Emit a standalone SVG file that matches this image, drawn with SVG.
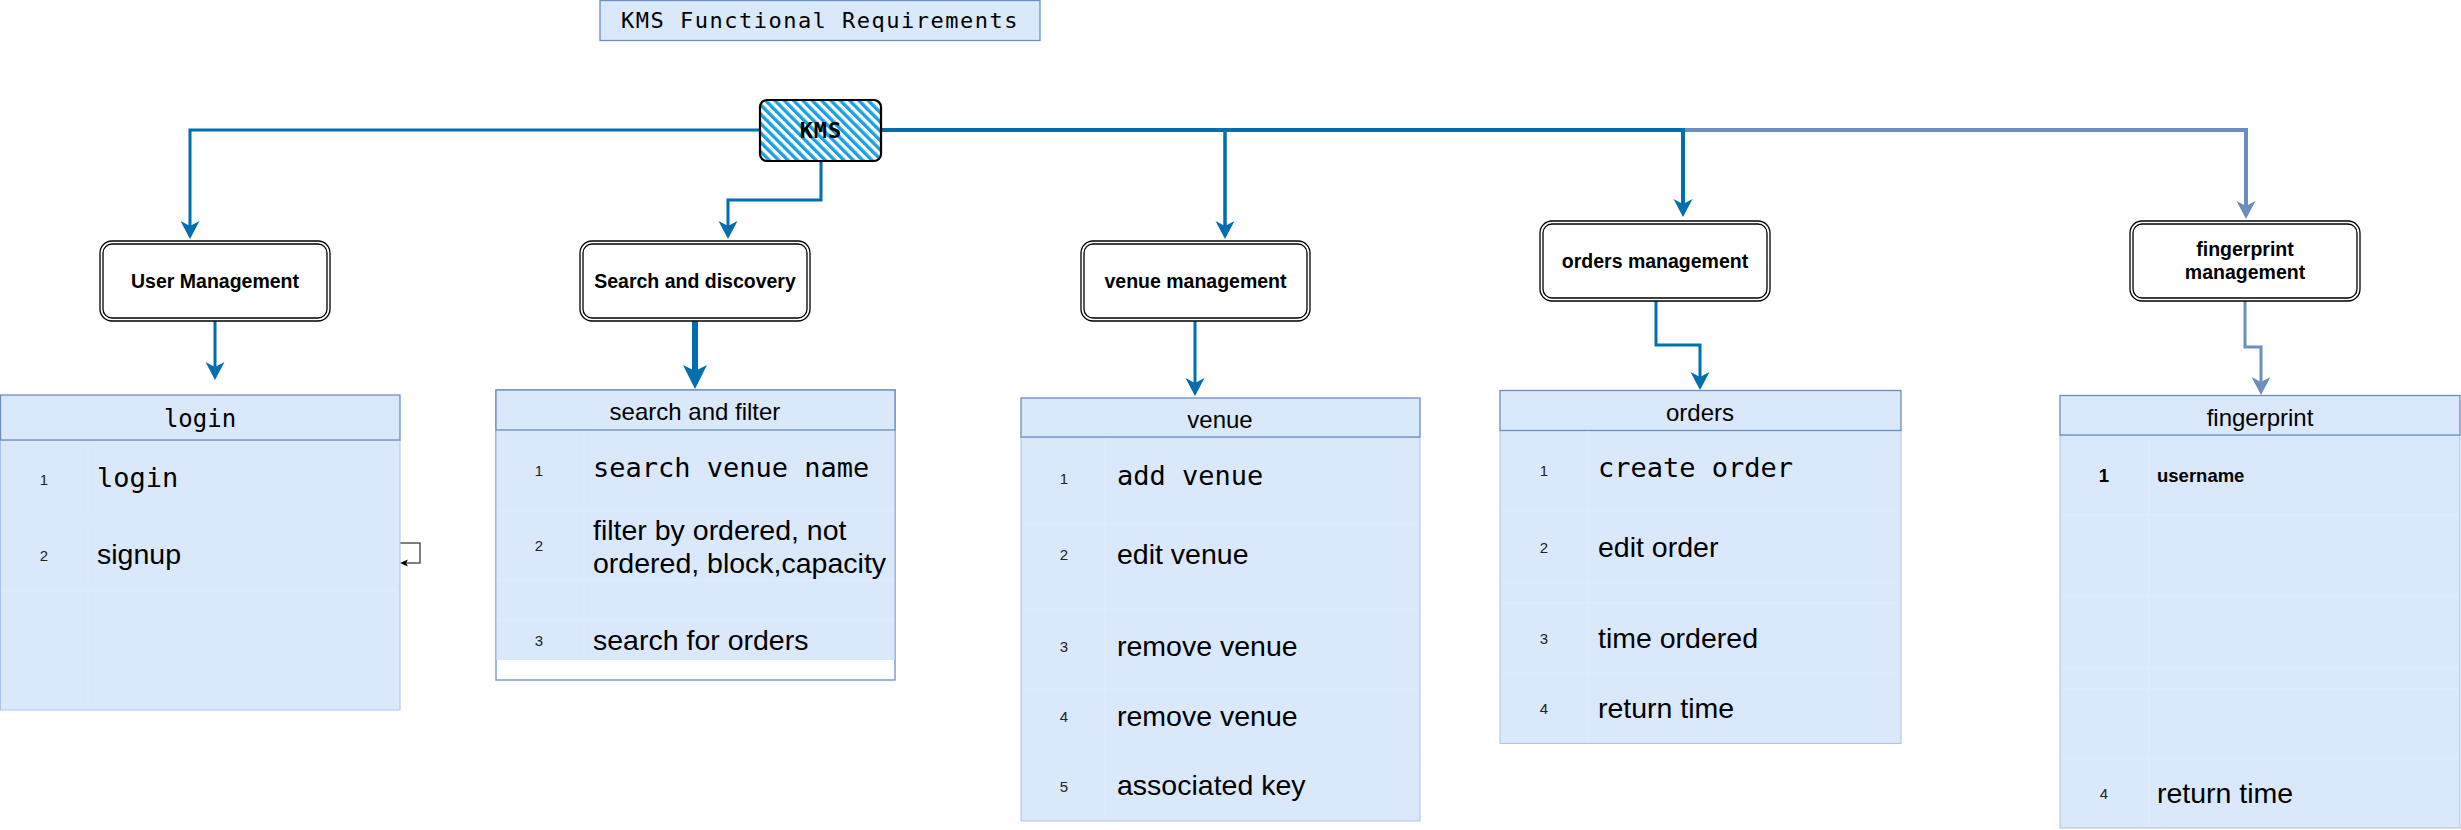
<svg xmlns="http://www.w3.org/2000/svg" width="2461" height="830" viewBox="0 0 2461 830">
<defs>
  <pattern id="stripes" patternUnits="userSpaceOnUse" width="6.6" height="6.6" patternTransform="rotate(-45)">
    <rect width="6.6" height="6.6" fill="#ffffff"/>
    <rect width="3.4" height="6.6" fill="#1ba1e2"/>
  </pattern>
  <marker id="ah" markerUnits="userSpaceOnUse" markerWidth="20" markerHeight="20" refX="5" refY="9.5" orient="auto">
    <path d="M0,0 L18,9.5 L0,19 L5,9.5 Z" fill="#006eaf"/>
  </marker>
  <marker id="ahBig" markerUnits="userSpaceOnUse" markerWidth="26" markerHeight="26" refX="6" refY="12" orient="auto">
    <path d="M0,0 L24,12 L0,24 L6,12 Z" fill="#006eaf"/>
  </marker>
  <marker id="ahLight" markerUnits="userSpaceOnUse" markerWidth="20" markerHeight="20" refX="5" refY="9.5" orient="auto">
    <path d="M0,0 L18,9.5 L0,19 L5,9.5 Z" fill="#6c8ebf"/>
  </marker>
  <marker id="ahSmall" markerUnits="userSpaceOnUse" markerWidth="10" markerHeight="10" refX="2" refY="3.5" orient="auto">
    <path d="M0,0 L8,3.5 L0,7 L2,3.5 Z" fill="#000"/>
  </marker>
</defs>
<style>
  .lbl{font-family:"Liberation Sans",Arial,sans-serif;font-weight:bold;font-size:19.5px;text-anchor:middle;fill:#000}
  .mono{font-family:"DejaVu Sans Mono","Liberation Mono",monospace;fill:#000}
  .sans{font-family:"Liberation Sans",Arial,sans-serif;fill:#000}
  .hdr{font-size:24px;text-anchor:middle}
  .item{font-size:28.5px}
  .itemm{font-size:27px}
  .num{font-family:"Liberation Sans",Arial,sans-serif;font-size:15px;text-anchor:middle;fill:#222}
  .body{fill:#dae8fc;stroke:#a9c4eb;stroke-width:1}
  .head{fill:#dae8fc;stroke:#6c8ebf;stroke-width:1.3}
  .sep{stroke:#e0ebfd;stroke-width:1;fill:none}
  .outer{fill:#fff;stroke:#000;stroke-width:1.3}
  .inner{fill:none;stroke:#000;stroke-width:1.3}
  .conn{fill:none;stroke:#006eaf;stroke-width:3}
</style>
<rect width="2461" height="830" fill="#ffffff"/>

<g id="title">
  <rect x="600" y="0.5" width="440" height="40" fill="#dae8fc" stroke="#6c8ebf" stroke-width="1.3"/>
  <text class="mono" x="820" y="28" font-size="22" letter-spacing="1.5" text-anchor="middle">KMS Functional Requirements</text>
</g>

<g id="connectors">
  <path class="conn" d="M881,130 H2246 V206" style="stroke:#6c8ebf;stroke-width:4" marker-end="url(#ahLight)"/>
  <path class="conn" d="M881,130 H1683 V204" style="stroke-width:4" marker-end="url(#ah)"/>
  <path class="conn" d="M881,130 H1225 V226" style="stroke-width:3.5" marker-end="url(#ah)"/>
  <path class="conn" d="M760,130 H190 V226" marker-end="url(#ah)"/>
  <path class="conn" d="M821,161 V200 H728 V226" marker-end="url(#ah)"/>
  <path class="conn" d="M215,321 V367" marker-end="url(#ah)"/>
  <path class="conn" d="M695,321 V371" style="stroke-width:6" marker-end="url(#ahBig)"/>
  <path class="conn" d="M1195,321 V383" marker-end="url(#ah)"/>
  <path class="conn" d="M1656,301 V345 H1700 V377" marker-end="url(#ah)"/>
  <path class="conn" d="M2245,301 V347 H2261 V382" style="stroke:#6c8ebf" marker-end="url(#ahLight)"/>
  <path d="M400,543 H420 V563 H406" fill="none" stroke="#555" stroke-width="1.5" marker-end="url(#ahSmall)"/>
  <path d="M691,680 V668" fill="none" stroke="#000" stroke-width="1.2" marker-end="url(#ahSmall)"/>
</g>

<g id="kms">
  <rect x="760" y="100" width="121" height="61" rx="7" fill="url(#stripes)" stroke="#000" stroke-width="2.2"/>
  <text class="mono" x="821" y="138" font-size="22" font-weight="bold" letter-spacing="1" text-anchor="middle">KMS</text>
</g>

<g id="user-management">
  <rect class="outer" x="100" y="241" width="230" height="80" rx="12"/>
  <rect class="inner" x="103" y="244" width="224" height="74" rx="9"/>
  <text class="lbl" x="215" y="288">User Management</text>
</g>
<g id="search-discovery">
  <rect class="outer" x="580" y="241" width="230" height="80" rx="12"/>
  <rect class="inner" x="583" y="244" width="224" height="74" rx="9"/>
  <text class="lbl" x="695" y="288">Search and discovery</text>
</g>
<g id="venue-management">
  <rect class="outer" x="1081" y="241" width="229" height="80" rx="12"/>
  <rect class="inner" x="1084" y="244" width="223" height="74" rx="9"/>
  <text class="lbl" x="1195.5" y="288">venue management</text>
</g>
<g id="orders-management">
  <rect class="outer" x="1540" y="221" width="230" height="80" rx="12"/>
  <rect class="inner" x="1543" y="224" width="224" height="74" rx="9"/>
  <text class="lbl" x="1655" y="268">orders management</text>
</g>
<g id="fingerprint-management">
  <rect class="outer" x="2130" y="221" width="230" height="80" rx="12"/>
  <rect class="inner" x="2133" y="224" width="224" height="74" rx="9"/>
  <text class="lbl" x="2245" y="256">fingerprint</text>
  <text class="lbl" x="2245" y="279">management</text>
</g>

<g id="login-table">
  <rect class="body" x="0.5" y="440" width="399.5" height="270"/>
  <rect class="head" x="0.5" y="395" width="399.5" height="45"/>
  <path class="sep" d="M1,520 H399 M1,590 H399 M88,441 V709"/>
  <text class="mono hdr" x="200" y="427">login</text>
  <text class="num" x="44" y="485">1</text>
  <text class="mono itemm" x="97" y="487">login</text>
  <text class="num" x="44" y="561">2</text>
  <text class="sans item" x="97" y="564">signup</text>
</g>

<g id="search-filter-table">
  <rect x="496" y="390" width="399" height="290" fill="#ffffff" stroke="#6c8ebf" stroke-width="1.3"/>
  <rect x="496.5" y="430" width="398" height="230" fill="#dae8fc"/>
  <rect class="head" x="496" y="390" width="399" height="40"/>
  <path class="sep" d="M497,510 H894 M497,580 H894 M497,620 H894 M584,431 V659"/>
  <text class="sans hdr" x="695" y="420">search and filter</text>
  <text class="num" x="539" y="476">1</text>
  <text class="mono itemm" x="593" y="477">search venue name</text>
  <text class="num" x="539" y="551">2</text>
  <text class="sans item" x="593" y="540">filter by ordered, not</text>
  <text class="sans item" x="593" y="573">ordered, block,capacity</text>
  <text class="num" x="539" y="646">3</text>
  <text class="sans item" x="593" y="650">search for orders</text>
</g>

<g id="venue-table">
  <rect class="body" x="1021" y="437" width="399" height="384"/>
  <rect class="head" x="1021" y="398" width="399" height="39"/>
  <path class="sep" d="M1022,524 H1419 M1022,610 H1419 M1022,690 H1419 M1022,760 H1419 M1105,438 V820"/>
  <text class="sans hdr" x="1220" y="428">venue</text>
  <text class="num" x="1064" y="484">1</text>
  <text class="mono itemm" x="1117" y="485">add venue</text>
  <text class="num" x="1064" y="560">2</text>
  <text class="sans item" x="1117" y="564">edit venue</text>
  <text class="num" x="1064" y="652">3</text>
  <text class="sans item" x="1117" y="656">remove venue</text>
  <text class="num" x="1064" y="722">4</text>
  <text class="sans item" x="1117" y="726">remove venue</text>
  <text class="num" x="1064" y="792">5</text>
  <text class="sans item" x="1117" y="795">associated key</text>
</g>

<g id="orders-table">
  <rect class="body" x="1500" y="430.5" width="401" height="313"/>
  <rect class="head" x="1500" y="390.5" width="401" height="40"/>
  <path class="sep" d="M1501,510 H1900 M1501,582 H1900 M1501,603 H1900 M1501,674 H1900 M1588,431 V742"/>
  <text class="sans hdr" x="1700" y="421">orders</text>
  <text class="num" x="1544" y="476">1</text>
  <text class="mono itemm" x="1598" y="476.5">create order</text>
  <text class="num" x="1544" y="553">2</text>
  <text class="sans item" x="1598" y="556.5">edit order</text>
  <text class="num" x="1544" y="644">3</text>
  <text class="sans item" x="1598" y="647.5">time ordered</text>
  <text class="num" x="1544" y="714">4</text>
  <text class="sans item" x="1598" y="717.5">return time</text>
</g>

<g id="fingerprint-table">
  <rect class="body" x="2060" y="435" width="400" height="393"/>
  <rect class="head" x="2060" y="395.5" width="400" height="39.5"/>
  <path class="sep" d="M2061,515 H2459 M2061,596 H2459 M2061,668 H2459 M2061,689 H2459 M2061,758 H2459 M2149,436 V827"/>
  <text class="sans hdr" x="2260" y="426">fingerprint</text>
  <text class="sans" x="2104" y="481.5" font-size="18.5" font-weight="bold" text-anchor="middle">1</text>
  <text class="sans" x="2157" y="481.5" font-size="18.5" font-weight="bold">username</text>
  <text class="num" x="2104" y="799">4</text>
  <text class="sans item" x="2157" y="802.5">return time</text>
</g>
</svg>
